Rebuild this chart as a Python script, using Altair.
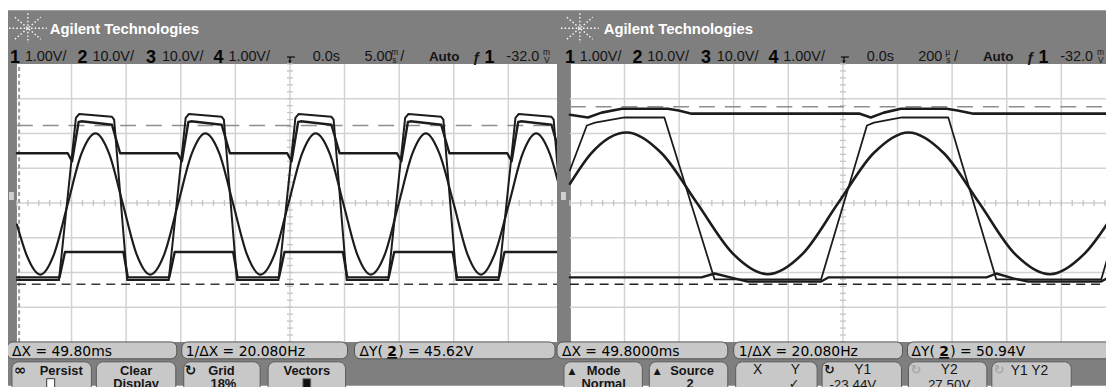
import altair as alt
import pandas as pd

# ================= DATA (all values in screen divisions) =================
# ---- left capture : 5.00 ms/div ----
L_SINE_X = [-5.00, -4.83, -4.57, -4.32, -4.07, -3.82, -3.56, -3.31, -3.06, -2.81,
            -2.56, -2.30, -2.05, -1.80, -1.55, -1.29, -1.04, -0.79, -0.54, -0.28,
            -0.03, 0.22, 0.47, 0.73, 0.98, 1.23, 1.48, 1.74, 1.99, 2.24,
            2.49, 2.74, 3.00, 3.25, 3.50, 3.75, 4.01, 4.26, 4.51, 4.76, 5.01]
L_SINE_Y = [-0.62, -1.47, -2.06, -1.47, -0.03, 1.41, 2.00, 1.41, -0.03, -1.47,
            -2.06, -1.47, -0.03, 1.41, 2.00, 1.41, -0.03, -1.47, -2.06, -1.47,
            -0.03, 1.41, 2.00, 1.41, -0.03, -1.47, -2.06, -1.47, -0.03, 1.41,
            2.00, 1.41, -0.03, -1.47, -2.06, -1.47, -0.03, 1.41, 2.00, 1.41, -0.03]

L_SQ_X = [-5.00, -4.23, -3.92, -3.86, -3.26, -3.22, -2.98, -2.22, -1.91, -1.85, -1.25,
          -1.21, -0.97, -0.21, 0.10, 0.16, 0.76, 0.80, 1.04, 1.80, 2.11, 2.17, 2.77,
          2.81, 3.05, 3.82, 4.13, 4.19, 4.79, 4.83, 5.07]
L_SQ_Y = [-2.22, -2.22, 2.45, 2.56, 2.48, 2.40, -2.22, -2.22, 2.45, 2.56, 2.48,
          2.40, -2.22, -2.22, 2.45, 2.56, 2.48, 2.40, -2.22, -2.22, 2.45, 2.56, 2.48,
          2.40, -2.22, -2.22, 2.45, 2.56, 2.48, 2.40, -2.22]

L_MID_X = [-5.00, -4.07, -3.99, -3.87, -3.82, -3.26, -3.11, -2.06, -1.98, -1.86, -1.81,
           -1.25, -1.10, -0.05, 0.03, 0.15, 0.20, 0.76, 0.91, 1.96, 2.04, 2.16, 2.21,
           2.77, 2.92, 3.98, 4.06, 4.18, 4.23, 4.79, 4.94, 5.07]
L_MID_Y = [1.43, 1.43, 1.20, 2.33, 2.35, 2.25, 1.43, 1.43, 1.20, 2.33, 2.35,
           2.25, 1.43, 1.43, 1.20, 2.33, 2.35, 2.25, 1.43, 1.43, 1.20, 2.33, 2.35,
           2.25, 1.43, 1.43, 1.20, 2.33, 2.35, 2.25, 1.43, 1.43]

L_LOW_X = [-5.00, -4.22, -4.12, -3.05, -2.97, -2.21, -2.11, -1.04, -0.96, -0.20, -0.10,
           0.97, 1.05, 1.81, 1.91, 2.98, 3.06, 3.83, 3.93, 5.00, 5.08]
L_LOW_Y = [-2.14, -2.14, -1.41, -1.41, -2.14, -2.14, -1.41, -1.41, -2.14, -2.14, -1.41,
           -1.41, -2.14, -2.14, -1.41, -1.41, -2.14, -2.14, -1.41, -1.41, -2.14]

L_CURSOR_X = [-4.96]
L_CURSOR_Y = [2.23, -2.34]

# ---- right capture : 200 us/div ----
R_SINE_X = [-5.00, -4.61, -3.96, -3.32, -2.67, -2.02, -1.38, -0.73, -0.09, 0.56,
            1.20, 1.85, 2.50, 3.14, 3.79, 4.43, 5.08]
R_SINE_Y = [0.55, 1.43, 2.03, 1.43, -0.01, -1.45, -2.05, -1.45, -0.01, 1.43,
            2.03, 1.43, -0.01, -1.45, -2.05, -1.45, -0.01]

R_TOP_X = [-5.00, -4.67, -4.42, -4.05, -3.21, -3.01, -2.77, 0.31, 0.51, 0.75,
           1.06, 1.90, 2.10, 2.39, 5.05]
R_TOP_Y = [2.54, 2.46, 2.60, 2.71, 2.71, 2.66, 2.57, 2.57, 2.46, 2.60,
           2.71, 2.71, 2.66, 2.57, 2.57]

R_SQ_X = [-5.00, -4.69, -4.54, -4.00, -3.27, -2.35, -0.40, 0.44, 0.57, 1.08,
          1.93, 2.81, 4.73, 5.05]
R_SQ_Y = [0.94, 2.23, 2.31, 2.46, 2.46, -2.20, -2.20, 2.23, 2.31, 2.46,
          2.46, -2.20, -2.20, -0.50]

R_BOT_X = [-5.00, -2.59, -2.35, -1.99, -1.75, -0.40, -0.26, 2.63, 2.81, 3.12,
           3.39, 4.73, 4.87, 5.05]
R_BOT_Y = [-2.14, -2.14, -2.03, -2.17, -2.26, -2.26, -2.14, -2.14, -2.03, -2.17,
           -2.26, -2.26, -2.14, -2.14]

R_CURSOR_Y = [2.77, -2.34]

GRID_X = [-4, -3, -2, -1, 0, 1, 2, 3, 4]
GRID_Y = [-3, -2, -1, 0, 1, 2, 3]

# ---- texts ----
TITLE = "Agilent Technologies"
CH_NUM = ["1", "2", "3", "4"]
CH_SCALE = ["1.00V/", "10.0V/", "10.0V/", "1.00V/"]
L_MEAS = ["ΔX = 49.80ms", "1/ΔX = 20.080Hz", ") = 45.62V"]
R_MEAS = ["ΔX = 49.8000ms", "1/ΔX = 20.080Hz", ") = 50.94V"]

# ================= LAYOUT / STYLE =================
PAGE = 8
BG = "#7f7f7f"
BTN = "#c8c8c8"
GRIDC = "#d3d3d3"
TRACE = "#1c1c1c"
R_OFF = (849 - 292) / 55.0

XS = alt.Scale(domain=[(8 - 292) / 55.0, (1114 - 292) / 55.0], nice=False, zero=False)
YS = alt.Scale(domain=[(203 - 387) / 35.0, (203 - 8) / 35.0], nice=False, zero=False)
ONE = pd.DataFrame({"k": [0]})


def P(v):
    return v - PAGE


def box(X1, Y1, X2, Y2, fill, stroke=None, r=0, rt=None):
    kw = {"fill": fill}
    if stroke:
        kw.update(stroke=stroke, strokeWidth=1)
    else:
        kw.update(strokeWidth=0)
    if rt is not None:
        kw.update(cornerRadiusTopLeft=rt, cornerRadiusTopRight=rt)
    elif r:
        kw["cornerRadius"] = r
    return alt.Chart(ONE).mark_rect(**kw).encode(
        x=alt.value(P(X1)), x2=alt.value(P(X2)), y=alt.value(P(Y1)), y2=alt.value(P(Y2)))


def seg(X1, Y1, X2, Y2, color, w, dash=None):
    kw = {"color": color, "strokeWidth": w}
    if dash:
        kw["strokeDash"] = dash
    return alt.Chart(ONE).mark_rule(**kw).encode(
        x=alt.value(P(X1)), x2=alt.value(P(X2)), y=alt.value(P(Y1)), y2=alt.value(P(Y2)))


def lab(s, X, Y, size=14.5, weight="normal", color="#151515", font="Liberation Sans", align="left"):
    return alt.Chart(ONE).mark_text(text=s, fontSize=size, fontWeight=weight, color=color,
                                    font=font, align=align, baseline="alphabetic").encode(
        x=alt.value(P(X)), y=alt.value(P(Y)))


def trace(xs, ys, off, w, interp="linear"):
    df = pd.DataFrame({"x": [v + off for v in xs], "y": ys, "i": list(range(len(xs)))})
    return alt.Chart(df).mark_line(color=TRACE, strokeWidth=w, interpolate=interp,
                                   strokeJoin="round", strokeCap="round").encode(
        x=alt.X("x:Q", scale=XS, axis=None), y=alt.Y("y:Q", scale=YS, axis=None), order="i:Q")


def panel_grid(off):
    out = []
    v = pd.DataFrame({"x": [g + off for g in GRID_X], "y1": -4.0, "y2": 4.0})
    out.append(alt.Chart(v).mark_rule(color=GRIDC, strokeWidth=1.5).encode(
        x=alt.X("x:Q", scale=XS, axis=None), y=alt.Y("y1:Q", scale=YS, axis=None), y2="y2:Q"))
    h = pd.DataFrame({"y": GRID_Y, "x1": -5.0 + off, "x2": 5.0 + off})
    out.append(alt.Chart(h).mark_rule(color=GRIDC, strokeWidth=1.5).encode(
        y=alt.Y("y:Q", scale=YS, axis=None), x=alt.X("x1:Q", scale=XS, axis=None), x2="x2:Q"))
    tx = pd.DataFrame({"x": [-5 + 0.2 * i + off for i in range(51)], "y": 0.0})
    out.append(alt.Chart(tx).mark_tick(orient="vertical", size=6, thickness=1.3, color="#c4c4c4",
                                       opacity=1).encode(
        x=alt.X("x:Q", scale=XS, axis=None), y=alt.Y("y:Q", scale=YS, axis=None)))
    ty = pd.DataFrame({"y": [-4 + 0.2 * i for i in range(41)], "x": off})
    out.append(alt.Chart(ty).mark_tick(orient="horizontal", size=6, thickness=1.3, color="#c4c4c4",
                                       opacity=1).encode(
        x=alt.X("x:Q", scale=XS, axis=None), y=alt.Y("y:Q", scale=YS, axis=None)))
    return out


def hcursor(y, x1, x2, color, dash):
    df = pd.DataFrame({"y": [y], "x1": [x1], "x2": [x2]})
    return alt.Chart(df).mark_rule(color=color, strokeDash=dash, strokeWidth=1.6).encode(
        y=alt.Y("y:Q", scale=YS, axis=None), x=alt.X("x1:Q", scale=XS, axis=None), x2="x2:Q")


def vcursor(x, color, dash):
    df = pd.DataFrame({"x": [x], "y1": [-4.0], "y2": [4.0]})
    return alt.Chart(df).mark_rule(color=color, strokeDash=dash, strokeWidth=2).encode(
        x=alt.X("x:Q", scale=XS, axis=None), y=alt.Y("y1:Q", scale=YS, axis=None), y2="y2:Q")


def logo(cx, cy):
    out = []
    for dx1, dy1, dx2, dy2 in [(-19, 0, 19, 0), (0, -15, 0, 15), (-13, -11, 13, 11), (-13, 11, 13, -11)]:
        out.append(seg(cx + dx1, cy + dy1, cx + dx2, cy + dy2, "white", 1.4, [1.5, 2.2]))
    return out


def trig(X):
    return [seg(X - 3, 56, X + 5, 56, "#111", 1.3),
            seg(X, 56, X, 61, "#111", 1.3),
            alt.Chart(ONE).mark_point(shape="triangle-down", filled=True, size=14, color="#111",
                                      opacity=1).encode(x=alt.value(P(X)), y=alt.value(P(61)))]


layers = []
# background + left screen
layers.append(box(8, 9, 1114, 387, BG))
layers.append(box(17, 63, 561, 343, "white"))
layers += panel_grid(0.0)
layers.append(vcursor(L_CURSOR_X[0], "#9a9a9a", [4, 3]))
layers.append(hcursor(L_CURSOR_Y[0], -5.0, 4.9, "#8e8e8e", [16, 10]))
layers.append(hcursor(L_CURSOR_Y[1], -5.0, 4.9, "#3a3a3a", [9, 6]))
layers.append(trace(L_SINE_X, L_SINE_Y, 0.0, 2.2, "monotone"))
layers.append(trace(L_LOW_X, L_LOW_Y, 0.0, 2.4))
layers.append(trace(L_MID_X, L_MID_Y, 0.0, 2.4))
layers.append(trace(L_SQ_X, L_SQ_Y, 0.0, 2.0))

# right screen
layers.append(box(561, 63, 575, 343, BG))
layers.append(box(575, 63, 1114, 343, "white"))
layers += panel_grid(R_OFF)
layers.append(hcursor(R_CURSOR_Y[0], -5.0 + R_OFF, 5.0 + R_OFF, "#8e8e8e", [16, 10]))
layers.append(hcursor(R_CURSOR_Y[1], -5.0 + R_OFF, 5.0 + R_OFF, "#222222", [9, 6]))
layers.append(trace(R_SINE_X, R_SINE_Y, R_OFF, 2.6, "monotone"))
layers.append(trace(R_BOT_X, R_BOT_Y, R_OFF, 2.4))
layers.append(trace(R_TOP_X, R_TOP_Y, R_OFF, 2.6))
layers.append(trace(R_SQ_X, R_SQ_Y, R_OFF, 1.8))

# ground markers on side strips
layers.append(box(9, 192, 14, 200, "#d0d0d0"))
layers.append(box(565, 192, 570, 200, "#d0d0d0"))

# headers
for cx, tx in [(28, 50), (584, 608)]:
    layers += logo(cx, 27)
    layers.append(lab(TITLE, tx, 33, 15, "bold", "white"))

for dx, dt, tdiv, unit in [(0, 0, "5.00", "m"), (559, 558, "200", "µ")]:
    for i, (nx, sx) in enumerate([(10, 25), (78, 93), (147, 163), (215, 230)]):
        layers.append(lab(CH_NUM[i], nx + dx, 62, 18, "bold", "#050505"))
        layers.append(lab(CH_SCALE[i], sx + dx, 60, 14.5))
    layers += trig(292 + dt)
    layers.append(lab("0.0s", 315 + dt, 60, 14.5))
    layers.append(lab(tdiv, 367 + dt, 60, 14.5))
    layers.append(lab(unit, 394 + dt, 54, 8.5))
    layers.append(lab("s", 395 + dt, 62, 8.5))
    layers.append(lab("/", 403 + dt, 60, 14.5))
    layers.append(lab("Auto", 432 + dt, 60, 13.5, "bold"))
    layers.append(lab("ƒ", 476 + dt, 61, 15, "bold"))
    layers.append(lab("1", 488 + dt, 62, 18, "bold", "#050505"))
    layers.append(lab("-32.0", 510 + dt, 60, 14.5))
    layers.append(lab("m", 547 + dt, 54, 8.5))
    layers.append(lab("V", 548 + dt, 62, 8.5))

# measurement row
for (x1, x2) in [(7, 178), (183, 350), (357, 559), (561, 733), (739, 909), (914, 1130)]:
    layers.append(box(x1, 343, x2, 360, BTN, "#555555", r=6))
for meas, xs in [(L_MEAS, (12, 187, 362, 390, 401)), (R_MEAS, (566, 744, 918, 946, 957))]:
    layers.append(lab(meas[0], xs[0], 357, 14, font="DejaVu Sans", color="#000"))
    layers.append(lab(meas[1], xs[1], 357, 14, font="DejaVu Sans", color="#000"))
    layers.append(lab("ΔY(", xs[2], 357, 14, font="DejaVu Sans", color="#000"))
    layers.append(lab("2", xs[3], 357, 14, "bold", font="DejaVu Sans", color="#000"))
    layers.append(seg(xs[3], 359, xs[3] + 10, 359, "#000", 1.5))
    layers.append(lab(meas[2], xs[4], 357, 14, font="DejaVu Sans", color="#000"))

# softkey row
for (x1, x2) in [(12, 92), (97, 177), (185, 262), (270, 348),
                 (568, 647), (654, 733), (741, 823), (828, 908), (915, 994), (999, 1079)]:
    layers.append(box(x1, 363, x2, 395, BTN, "#5a5a5a", rt=7))

B = "bold"
layers += [
    lab("∞", 14, 376, 15, B, font="DejaVu Sans"),
    lab("Persist", 40, 376, 13, B),
    box(47, 380, 55, 390, "white", "#333333"),
    lab("Clear", 137, 376, 13, B, align="center"),
    lab("Display", 137, 389, 13, B, align="center"),
    lab("↻", 186, 376, 14, B, font="DejaVu Sans"),
    lab("Grid", 223, 376, 13, B, align="center"),
    lab("18%", 225, 389, 13, B, align="center"),
    lab("Vectors", 309, 376, 13, B, align="center"),
    box(305, 380, 313, 390, "#111111", "#777777"),
    lab("▲", 576, 375, 9, font="DejaVu Sans", align="center"),
    lab("Mode", 608, 376, 13, B, align="center"),
    lab("Normal", 608, 389, 13, B, align="center"),
    lab("▲", 662, 375, 9, font="DejaVu Sans", align="center"),
    lab("Source", 697, 376, 13, B, align="center"),
    lab("2", 695, 389, 13, B, align="center"),
    lab("X", 763, 375, 14, align="center"),
    lab("Y", 801, 375, 14, align="center"),
    lab("✓", 800, 389, 13, font="DejaVu Sans", align="center"),
    lab("↻", 830, 375, 13, B, font="DejaVu Sans"),
    lab("Y1", 869, 375, 14, align="center"),
    lab("-23.44V", 859, 390, 13.5, align="center"),
    lab("↻", 917, 375, 13, B, color="#a8a8a8", font="DejaVu Sans"),
    lab("Y2", 956, 375, 14, align="center"),
    lab("27.50V", 956, 390, 13.5, align="center"),
    lab("↻", 1001, 375, 13, B, color="#a8a8a8", font="DejaVu Sans"),
    lab("Y1  Y2", 1018, 376, 14),
]

chart = alt.layer(*layers).properties(
    width=1106, height=379, padding=0, background="white",
    autosize=alt.AutoSizeParams(type="none"),
).configure_view(stroke=None)

chart.save("out.html", embed_options={"renderer": "svg", "actions": False})
